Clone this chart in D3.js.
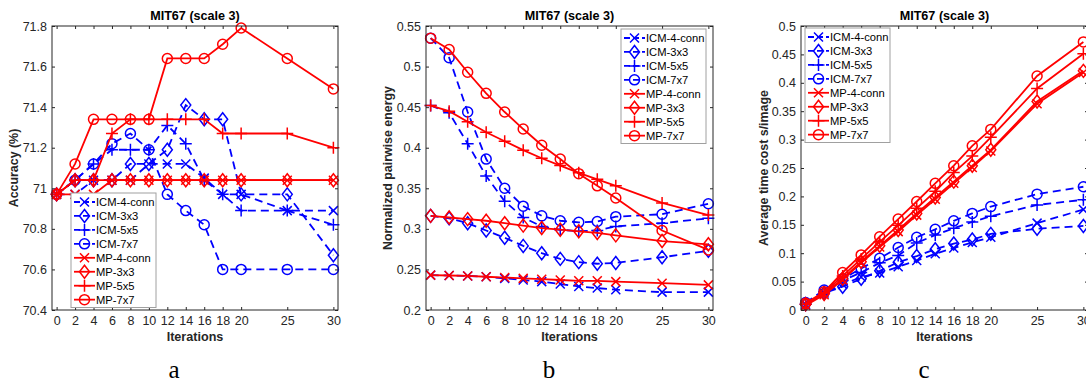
<!DOCTYPE html>
<html>
<head>
<meta charset="utf-8">
<script src="https://cdn.jsdelivr.net/npm/d3@7"></script>
<style>
  body { margin: 0; background: #fff; }
  svg text { font-family: "Liberation Sans", Arial, sans-serif; }
</style>
</head>
<body>
<svg id="chart" width="1086" height="384"></svg>
<script>
// shared
const iterations = [0, 2, 4, 6, 8, 10, 12, 14, 16, 18, 20, 25, 30];
const xTicks = [0, 2, 4, 6, 8, 10, 12, 14, 16, 18, 20, 25, 30];
const seriesNames = ['ICM-4-conn', 'ICM-3x3', 'ICM-5x5', 'ICM-7x7', 'MP-4-conn', 'MP-3x3', 'MP-5x5', 'MP-7x7'];
const markerTypes = ['x', 'diamond', 'plus', 'circle', 'x', 'diamond', 'plus', 'circle'];

// (a) accuracy
const accTicks = [70.4, 70.6, 70.8, 71, 71.2, 71.4, 71.6, 71.8];
const accIcm4 = [70.97, 70.97, 71.04, 71.04, 71.04, 71.12, 71.12, 71.12, 71.05, 70.97, 70.97, 70.89, 70.89];
const accIcm3 = [70.97, 71.04, 71.04, 71.04, 71.12, 71.12, 71.19, 71.41, 71.34, 71.34, 70.97, 70.97, 70.67];
const accIcm5 = [70.97, 71.04, 71.12, 71.19, 71.19, 71.19, 71.31, 71.22, 71.04, 70.97, 70.89, 70.89, 70.82];
const accIcm7 = [70.97, 71.04, 71.12, 71.22, 71.27, 71.19, 70.97, 70.89, 70.82, 70.60, 70.60, 70.60, 70.60];
const accMp4 = [70.97, 70.97, 70.97, 71.04, 71.04, 71.04, 71.04, 71.04, 71.04, 71.04, 71.04, 71.04, 71.04];
const accMp3 = [70.97, 71.04, 71.04, 71.04, 71.04, 71.04, 71.04, 71.04, 71.04, 71.04, 71.04, 71.04, 71.04];
const accMp5 = [70.97, 71.04, 71.04, 71.27, 71.34, 71.34, 71.34, 71.34, 71.34, 71.27, 71.27, 71.27, 71.20];
const accMp7 = [70.97, 71.12, 71.34, 71.34, 71.34, 71.34, 71.64, 71.64, 71.64, 71.71, 71.79, 71.64, 71.49];

// (b) normalized pairwise energy
const energyTicks = [0.2, 0.25, 0.3, 0.35, 0.4, 0.45, 0.5, 0.55];
const enIcm4 = [0.243, 0.2425, 0.242, 0.241, 0.239, 0.237, 0.235, 0.232, 0.229, 0.227, 0.225, 0.222, 0.222];
const enIcm3 = [0.316, 0.313, 0.307, 0.298, 0.289, 0.279, 0.270, 0.263, 0.259, 0.257, 0.258, 0.265, 0.273];
const enIcm5 = [0.452, 0.443, 0.405, 0.365, 0.334, 0.314, 0.303, 0.299, 0.297, 0.298, 0.303, 0.307, 0.313];
const enIcm7 = [0.535, 0.511, 0.444, 0.386, 0.350, 0.328, 0.316, 0.310, 0.308, 0.309, 0.315, 0.318, 0.331];
const enMp4 = [0.243, 0.2425, 0.242, 0.241, 0.240, 0.239, 0.238, 0.237, 0.236, 0.236, 0.235, 0.233, 0.231];
const enMp3 = [0.316, 0.314, 0.312, 0.310, 0.307, 0.304, 0.301, 0.299, 0.297, 0.295, 0.292, 0.285, 0.281];
const enMp5 = [0.452, 0.445, 0.432, 0.419, 0.408, 0.397, 0.387, 0.378, 0.369, 0.361, 0.353, 0.332, 0.317];
const enMp7 = [0.535, 0.521, 0.493, 0.467, 0.444, 0.423, 0.403, 0.386, 0.368, 0.353, 0.338, 0.298, 0.274];

// (c) time cost
const timeTicks = [0, 0.05, 0.1, 0.15, 0.2, 0.25, 0.3, 0.35, 0.4, 0.45, 0.5];
const tmIcm4 = [0.010, 0.030, 0.045, 0.058, 0.065, 0.076, 0.087, 0.099, 0.109, 0.119, 0.128, 0.153, 0.177];
const tmIcm3 = [0.010, 0.030, 0.041, 0.055, 0.069, 0.084, 0.095, 0.107, 0.117, 0.124, 0.134, 0.143, 0.148];
const tmIcm5 = [0.010, 0.032, 0.052, 0.066, 0.083, 0.096, 0.118, 0.132, 0.144, 0.155, 0.165, 0.185, 0.194];
const tmIcm7 = [0.013, 0.035, 0.055, 0.073, 0.091, 0.110, 0.128, 0.142, 0.157, 0.170, 0.182, 0.204, 0.217];
const tmMp4 = [0.008, 0.027, 0.053, 0.083, 0.111, 0.138, 0.167, 0.195, 0.223, 0.251, 0.280, 0.363, 0.418];
const tmMp3 = [0.010, 0.028, 0.055, 0.085, 0.113, 0.141, 0.170, 0.198, 0.226, 0.254, 0.282, 0.367, 0.421];
const tmMp5 = [0.010, 0.030, 0.060, 0.090, 0.120, 0.149, 0.179, 0.209, 0.242, 0.271, 0.304, 0.390, 0.451];
const tmMp7 = [0.012, 0.032, 0.066, 0.097, 0.129, 0.160, 0.191, 0.223, 0.254, 0.289, 0.318, 0.412, 0.472];

const panels = [
  {left: 52, right: 338, yDomain: [70.4, 71.8], yTicks: accTicks, ylabel: 'Accuracy (%)', ylabelX: 14,
   letter: 'a', letterX: 174, legend: {x: 71, y: 193},
   series: [accIcm4, accIcm3, accIcm5, accIcm7, accMp4, accMp3, accMp5, accMp7]},
  {left: 426, right: 713, yDomain: [0.2, 0.55], yTicks: energyTicks, ylabel: 'Normalized pairwise energy', ylabelX: 388,
   letter: 'b', letterX: 549, legend: {x: 621, y: 29},
   series: [enIcm4, enIcm3, enIcm5, enIcm7, enMp4, enMp3, enMp5, enMp7]},
  {left: 801, right: 1088, yDomain: [0, 0.5], yTicks: timeTicks, ylabel: 'Average time cost s/image', ylabelX: 764,
   letter: 'c', letterX: 924, legend: {x: 805, y: 28},
   series: [tmIcm4, tmIcm3, tmIcm5, tmIcm7, tmMp4, tmMp3, tmMp5, tmMp7]}
];

const plotTop = 26, plotBottom = 310;
const axisColor = '#262626';
const svg = d3.select('#chart');

function markerPath(type) {
  const p = d3.path();
  if (type === 'circle') {
    p.moveTo(5, 0);
    p.arc(0, 0, 5, 0, 2 * Math.PI);
  } else if (type === 'diamond') {
    p.moveTo(0, -6.5); p.lineTo(5, 0); p.lineTo(0, 6.5); p.lineTo(-5, 0); p.closePath();
  } else if (type === 'plus') {
    p.moveTo(-6, 0); p.lineTo(6, 0); p.moveTo(0, -6); p.lineTo(0, 6);
  } else {
    p.moveTo(-4.5, -4.5); p.lineTo(4.5, 4.5); p.moveTo(-4.5, 4.5); p.lineTo(4.5, -4.5);
  }
  return p.toString();
}

function seriesStyle(i) {
  const isIcm = i < 4;
  return {
    color: isIcm ? '#0000ff' : '#ff0000',
    dash: isIcm ? '8,5' : null
  };
}

panels.forEach(function(pn) {
  const x = d3.scaleLinear().domain([-0.5, 30.5]).range([pn.left, pn.right]);
  const y = d3.scaleLinear().domain(pn.yDomain).range([plotBottom, plotTop]);
  const g = svg.append('g');
  const fmt = function(v) { return String(+v.toFixed(2)); };

  // axes
  const gx = g.append('g').attr('transform', 'translate(0,' + plotBottom + ')')
    .call(d3.axisBottom(x).tickValues(xTicks).tickSizeInner(-3).tickSizeOuter(0).tickPadding(6).tickFormat(fmt));
  const gxt = g.append('g').attr('transform', 'translate(0,' + plotTop + ')')
    .call(d3.axisTop(x).tickValues(xTicks).tickSizeInner(-3).tickSizeOuter(0).tickFormat(''));
  const gy = g.append('g').attr('transform', 'translate(' + pn.left + ',0)')
    .call(d3.axisLeft(y).tickValues(pn.yTicks).tickSizeInner(-3).tickSizeOuter(0).tickPadding(5).tickFormat(fmt));
  const gyr = g.append('g').attr('transform', 'translate(' + pn.right + ',0)')
    .call(d3.axisRight(y).tickValues(pn.yTicks).tickSizeInner(-3).tickSizeOuter(0).tickFormat(''));
  [gx, gxt, gy, gyr].forEach(function(a) {
    a.select('.domain').remove();
    a.selectAll('line').attr('stroke', axisColor);
    a.selectAll('text').attr('fill', axisColor).style('font-size', '12.5px');
  });

  // data
  const line = d3.line()
    .x(function(d) { return x(d[0]); })
    .y(function(d) { return y(d[1]); });

  pn.series.forEach(function(vals, i) {
    const st = seriesStyle(i);
    const pts = iterations.map(function(it, k) { return [it, vals[k]]; });
    const sg = g.append('g');
    sg.append('path')
      .datum(pts)
      .attr('d', line)
      .attr('fill', 'none')
      .attr('stroke', st.color)
      .attr('stroke-width', 1.8)
      .attr('stroke-dasharray', st.dash);
    sg.selectAll('path.mk')
      .data(pts)
      .enter().append('path')
      .attr('class', 'mk')
      .attr('transform', function(d) { return 'translate(' + x(d[0]) + ',' + y(d[1]) + ')'; })
      .attr('d', markerPath(markerTypes[i]))
      .attr('fill', 'none')
      .attr('stroke', st.color)
      .attr('stroke-width', 1.5);
  });

  // box
  g.append('rect')
    .attr('x', pn.left).attr('y', plotTop)
    .attr('width', pn.right - pn.left).attr('height', plotBottom - plotTop)
    .attr('fill', 'none').attr('stroke', axisColor).attr('stroke-width', 1);

  // labels
  g.append('text')
    .attr('x', (pn.left + pn.right) / 2).attr('y', 20)
    .attr('text-anchor', 'middle')
    .style('font-size', '12.6px').style('font-weight', 'bold')
    .attr('fill', '#000')
    .text('MIT67 (scale 3)');
  g.append('text')
    .attr('x', (pn.left + pn.right) / 2).attr('y', 341)
    .attr('text-anchor', 'middle')
    .style('font-size', '12.6px').style('font-weight', 'bold')
    .attr('fill', axisColor)
    .text('Iterations');
  g.append('text')
    .attr('transform', 'translate(' + pn.ylabelX + ',' + (plotTop + plotBottom) / 2 + ') rotate(-90)')
    .attr('text-anchor', 'middle').attr('dy', '0.35em')
    .style('font-size', '12.4px').style('font-weight', 'bold')
    .attr('fill', axisColor)
    .text(pn.ylabel);
  g.append('text')
    .attr('x', pn.letterX).attr('y', 378)
    .attr('text-anchor', 'middle')
    .style('font-family', '"Liberation Serif", "Times New Roman", serif')
    .style('font-size', '25px')
    .attr('fill', '#000')
    .text(pn.letter);

  // legend
  const lg = g.append('g').attr('transform', 'translate(' + pn.legend.x + ',' + pn.legend.y + ')');
  lg.append('rect')
    .attr('width', 85).attr('height', 114.5)
    .attr('fill', '#fff').attr('stroke', '#a0a0a0').attr('stroke-width', 1);
  seriesNames.forEach(function(name, i) {
    const st = seriesStyle(i);
    const ry = 9 + i * 13.95;
    lg.append('line')
      .attr('x1', 3).attr('x2', 24).attr('y1', ry).attr('y2', ry)
      .attr('stroke', st.color).attr('stroke-width', 1.8)
      .attr('stroke-dasharray', st.dash ? '6,3' : null);
    lg.append('path')
      .attr('transform', 'translate(13.5,' + ry + ')')
      .attr('d', markerPath(markerTypes[i]))
      .attr('fill', 'none').attr('stroke', st.color).attr('stroke-width', 1.5);
    lg.append('text')
      .attr('x', 25).attr('y', ry).attr('dy', '0.35em')
      .style('font-size', '11.2px')
      .attr('fill', '#000')
      .text(name);
  });
});
</script>
</body>
</html>
